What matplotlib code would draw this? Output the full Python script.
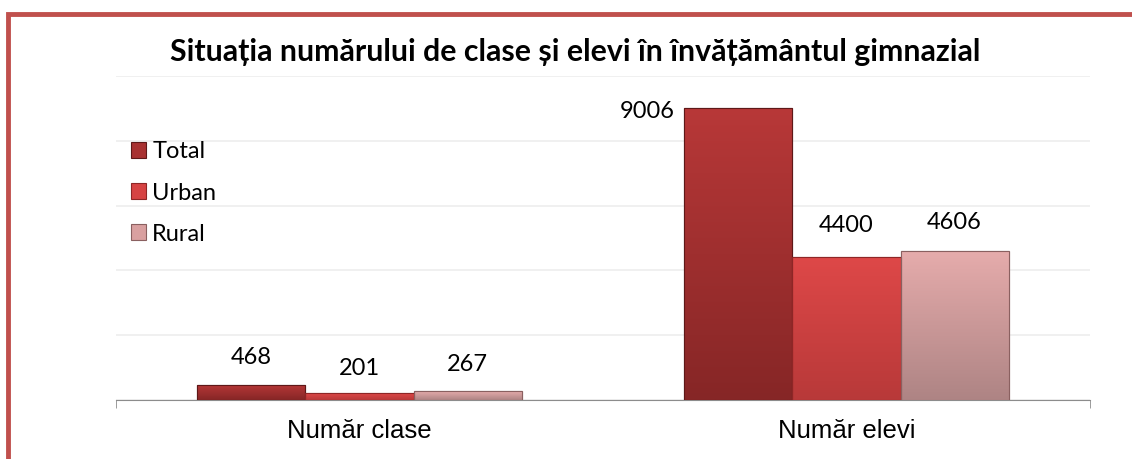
import matplotlib
matplotlib.use("Agg")
import matplotlib.pyplot as plt
from matplotlib.patches import Rectangle
from matplotlib.colors import LinearSegmentedColormap
import numpy as np

categories = ["Număr clase", "Număr elevi"]
series_names = ["Total", "Urban", "Rural"]
total = [468, 9006]
urban = [201, 4400]
rural = [267, 4606]
title = "Situația numărului de clase și elevi în învățământul gimnazial"

colors = ["#a83131", "#d64343", "#d9a0a0"]
tops = ["#b83838", "#de4848", "#e6acac"]
bottoms = ["#862626", "#b83939", "#ae8484"]
edges = ["#5e1818", "#8e2626", "#8a6060"]

fig = plt.figure(figsize=(11.32, 4.59), dpi=100)
ax = fig.add_axes([116/1132, 59/459, 974/1132, 324/459])

x = np.arange(len(categories))
w = 0.222
values = [total, urban, rural]
bars = []
for i, (vals, c, e, name) in enumerate(zip(values, colors, edges, series_names)):
    b = ax.bar(x + (i - 1) * w, vals, width=w, color=c, edgecolor=e, linewidth=0.8,
               label=name, zorder=3)
    bars.append(b)
    cmap = LinearSegmentedColormap.from_list(name, [bottoms[i], tops[i]])
    grad = np.linspace(0, 1, 256).reshape(-1, 1)
    for rect in b:
        x0, y0 = rect.get_x(), rect.get_y()
        im = ax.imshow(grad, cmap=cmap, origin="lower", aspect="auto",
                       extent=[x0, x0 + rect.get_width(), y0, y0 + rect.get_height()],
                       zorder=3.5)
        im.set_clip_path(rect)
    for rect in b:
        r2 = Rectangle((rect.get_x(), rect.get_y()), rect.get_width(), rect.get_height(),
                       fill=False, edgecolor=e, linewidth=0.8, zorder=4)
        ax.add_patch(r2)

ax.set_xlim(-0.5, 1.5)
ax.set_ylim(0, 10000)
ax.set_yticks(np.arange(0, 10001, 2000))
ax.yaxis.grid(True, color="#eeeeee", linewidth=1.2, zorder=0)
ax.tick_params(axis="y", left=False, labelleft=False)
ax.set_xticks(x)
ax.set_xticklabels(categories, fontsize=18.5, family="Liberation Sans")
ax.tick_params(axis="x", length=0, pad=14)
for s in ["top", "right", "left"]:
    ax.spines[s].set_visible(False)
ax.spines["bottom"].set_color("#8c8c8c")
ax.set_xticks([-0.5, 1.5], minor=True)
ax.tick_params(axis="x", which="minor", length=6, color="#8c8c8c", direction="out")

lab_font = dict(fontsize=17, family="Lato", color="#000000")
px = 72 / 100
# label offsets (pixels) relative to bar top centre
offsets = {0: [(0, 27), (0, 25), (0, 27)], 1: [(-91, -3), (0, 32), (0, 28)]}
for i, b in enumerate(bars):
    for j, rect in enumerate(b):
        v = values[i][j]
        dx, dy = offsets[j][i]
        ax.annotate(str(v), (rect.get_x() + rect.get_width() / 2, v),
                    xytext=(dx * px, dy * px), textcoords="offset points",
                    ha="center", va="center", **lab_font)

fig.text(575/1132, 1 - 52/459, title, ha="center", va="center",
         fontsize=21.8, fontweight="bold", family="Lato")

leg = ax.legend(loc="center left", bbox_to_anchor=(131/1132, 1 - 193/459),
                bbox_transform=fig.transFigure, frameon=False,
                prop={"family": "Lato", "size": 17}, handlelength=0.65,
                handleheight=0.65, handletextpad=0.25, labelspacing=0.85,
                borderaxespad=0, borderpad=0)

fig.patches.append(Rectangle((7.5/1132, -0.1), 1.2, 1 - 14.5/459 + 0.1,
                             transform=fig.transFigure, fill=False,
                             edgecolor="#c0504d", linewidth=3.5))

fig.savefig("out.png", dpi=100)
